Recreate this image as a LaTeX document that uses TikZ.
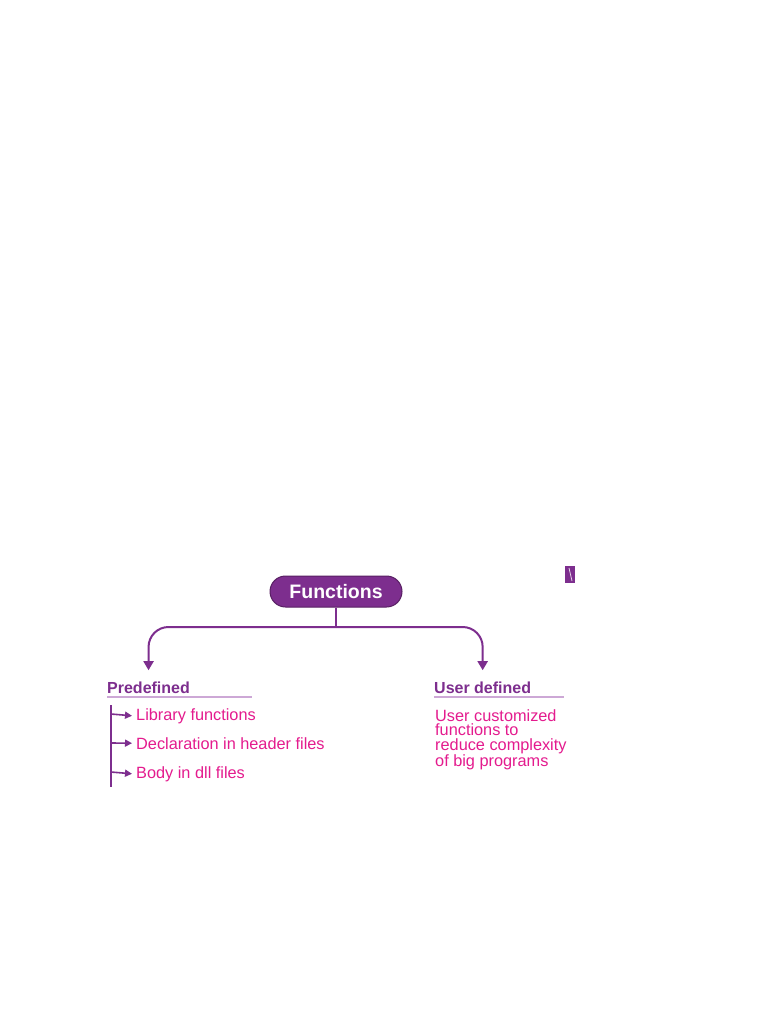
\documentclass[tikz,border=0pt]{standalone}
\usepackage{fontspec}
\setmainfont{Liberation Sans}
\usetikzlibrary{arrows.meta,calc}
\definecolor{fpurple}{HTML}{7D2E8E}
\definecolor{fmagenta}{HTML}{E41B8E}
\definecolor{flight}{HTML}{CDA8D6}
\begin{document}
\begin{tikzpicture}[x=1pt,y=-1pt,
  pill/.style={draw=fpurple!70!black, line width=1pt, fill=fpurple, rounded corners=15.5pt,
     minimum width=132pt, minimum height=31pt, text=white, font=\fontsize{19.5}{22}\selectfont\bfseries},
  head/.style={text=fpurple, font=\fontsize{16}{18}\selectfont\bfseries, inner sep=0pt, anchor=base west},
  item/.style={text=fmagenta, font=\fontsize{16.3}{18}\selectfont, inner sep=0pt, anchor=base west},
  conn/.style={draw=fpurple, line width=2pt},
  bigarrow/.style={conn, rounded corners=20pt, -{Triangle[length=9pt,width=10pt]}, shorten >=11pt},
  smallarrow/.style={draw=fpurple, line width=1.6pt, -{Triangle[length=7pt,width=7pt]}},
  uline/.style={draw=flight, line width=1.3pt}]
\useasboundingbox (0,0) rectangle (768,1024);
\fill[white] (0,0) rectangle (768,1024);

\node[pill] (fn) at (336,591.5) {Functions};

\node[head] (pre) at (107,693) {Predefined};
\node[head] (usr) at (434,693) {User defined};

\coordinate (j) at (336,627);
\draw[conn] (fn.south) -- (j);
\draw[bigarrow] (j) -| (pre.north);
\draw[bigarrow] (j) -| (usr.north);

\coordinate (ul1a) at (107,697);
\coordinate (ul1b) at (252,697);
\coordinate (ul2a) at (434,697);
\coordinate (ul2b) at (564,697);
\draw[uline] (ul1a) -- (ul1b);
\draw[uline] (ul2a) -- (ul2b);

\coordinate (vt) at (111,705);
\coordinate (vb) at (111,787);
\draw[conn, line width=1.8pt] (vt) -- (vb);

\node[item] (lib) at (136,720) {Library functions};
\node[item] (dec) at (136,749) {Declaration in header files};
\node[item] (bod) at (136,778) {Body in dll files};

\foreach \n/\yy in {lib/714, dec/743, bod/772}{
  \coordinate (b\n) at (111,\yy);
  \draw[smallarrow] (b\n) -- ($(\n.west)+(-4,0)$ |- b\n);
}

\node[item, anchor=north west, align=left, font=\fontsize{16.3}{14.6}\selectfont] (udesc) at (435,709)
  {User customized\\functions to\\reduce complexity\\of big programs};

% small cropped fragment at the top right
\fill[fpurple] (565,566) rectangle (575,583);
\draw[white!80!fpurple, line width=0.8pt] (569,568) -- (572,581);
\end{tikzpicture}
\end{document}
